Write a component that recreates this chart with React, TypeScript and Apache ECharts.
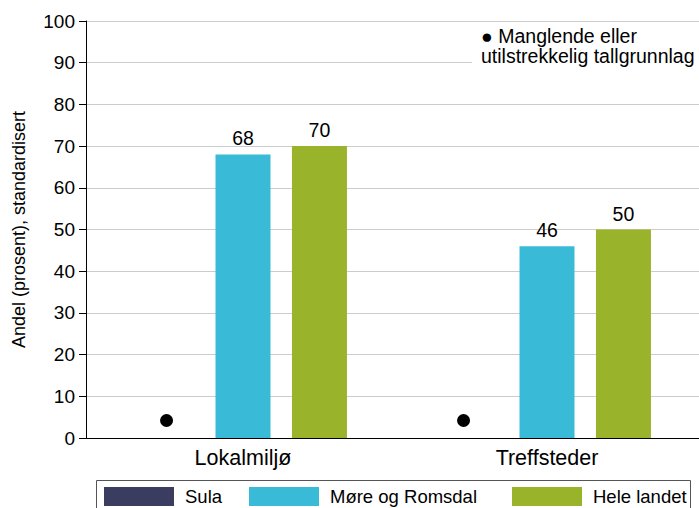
import React, { useEffect, useRef } from "react";
import * as echarts from "echarts";

const categories = ["Lokalmiljø", "Treffsteder"];
const seriesNames = ["Sula", "Møre og Romsdal", "Hele landet"];
const sulaValues: (number | null)[] = [null, null];
const moreValues = [68, 46];
const heleValues = [70, 50];
const yTicks = { min: 0, max: 100, interval: 10 };
const yAxisTitle = "Andel (prosent), standardisert";
const noteLines = ["● Manglende eller", "utilstrekkelig tallgrunnlag"];

const colors = ["#3a3c60", "#39bbd7", "#99b32a"];
const FONT = "Liberation Sans, Arial, sans-serif";
const legendLefts = [104, 249, 512];
const dotOffsets = [0, -7];

export default function App() {
  const ref = useRef<HTMLDivElement>(null);
  useEffect(() => {
    if (!ref.current) return;
    const chart = echarts.init(ref.current, undefined, { renderer: "svg" });
    const dotLabel = (i: number) => ({
      show: true,
      position: "top",
      distance: 11,
      offset: [dotOffsets[i], 0],
      formatter: "{d|}",
      rich: { d: { width: 13, height: 13, borderRadius: 6.5, backgroundColor: "#000" } },
    });
    const valueLabel = {
      show: true,
      position: "top",
      distance: 6,
      color: "#000",
      fontSize: 19.5,
      fontFamily: FONT,
    };
    chart.setOption({
      animation: false,
      textStyle: { fontFamily: FONT },
      grid: [
        { left: 86, top: 21, right: 0, bottom: 70, containLabel: false },
        { left: 91, top: 21, width: 614, bottom: 70, containLabel: false },
      ],
      legend: seriesNames.map((name, i) => ({
        left: legendLefts[i],
        top: 487,
        padding: 0,
        itemWidth: 70,
        itemHeight: 19,
        icon: "rect",
        selectedMode: false,
        textStyle: { fontSize: 18.5, color: "#000", fontFamily: FONT, padding: [0, 0, 0, 6] },
        data: [name],
      })),
      xAxis: [
        {
          type: "category",
          gridIndex: 0,
          data: categories,
          axisLine: { lineStyle: { color: "#000", width: 1 } },
          axisTick: { show: false },
          axisLabel: { show: false },
        },
        {
          type: "category",
          gridIndex: 1,
          data: categories,
          axisLine: { show: false },
          axisTick: { show: false },
          axisLabel: { color: "#000", fontSize: 21.5, margin: 9, fontFamily: FONT },
        },
      ],
      yAxis: [
        {
          type: "value",
          gridIndex: 0,
          min: yTicks.min,
          max: yTicks.max,
          interval: yTicks.interval,
          name: yAxisTitle,
          nameLocation: "middle",
          nameGap: 58,
          nameTextStyle: { color: "#000", fontSize: 18, fontFamily: FONT },
          axisLine: { show: true, lineStyle: { color: "#000", width: 1 } },
          axisTick: { show: true, length: 7, lineStyle: { color: "#000" } },
          axisLabel: { color: "#000", fontSize: 19, margin: 11, fontFamily: FONT },
          splitLine: { lineStyle: { color: "#cccccc", width: 1 } },
        },
        {
          type: "value",
          gridIndex: 1,
          min: yTicks.min,
          max: yTicks.max,
          interval: yTicks.interval,
          show: false,
          splitLine: { show: false },
        },
      ],
      series: [
        {
          name: seriesNames[0],
          type: "bar",
          xAxisIndex: 1,
          yAxisIndex: 1,
          barWidth: 55,
          barGap: "39%",
          itemStyle: { color: colors[0] },
          data: sulaValues.map((v, i) =>
            v === null ? { value: 0, label: dotLabel(i) } : { value: v }
          ),
        },
        {
          name: seriesNames[1],
          type: "bar",
          xAxisIndex: 1,
          yAxisIndex: 1,
          barWidth: 55,
          barGap: "39%",
          itemStyle: { color: colors[1] },
          label: valueLabel,
          data: moreValues,
        },
        {
          name: seriesNames[2],
          type: "bar",
          xAxisIndex: 1,
          yAxisIndex: 1,
          barWidth: 55,
          barGap: "39%",
          itemStyle: { color: colors[2] },
          label: valueLabel,
          data: heleValues,
        },
      ],
      graphic: [
        {
          type: "rect",
          z: 99,
          shape: { x: 472, y: 24, width: 227, height: 43 },
          style: { fill: "#fff" },
        },
        {
          type: "text",
          x: 481,
          y: 26,
          z: 100,
          style: {
            text: noteLines.join("\n"),
            fontSize: 19.5,
            lineHeight: 20,
            fill: "#000",
            fontFamily: FONT,
          },
        },
        {
          type: "rect",
          z: 50,
          shape: { x: 96.5, y: 480.5, width: 594, height: 40 },
          style: { fill: "none", stroke: "#555", lineWidth: 1 },
        },
      ],
    });
    return () => chart.dispose();
  }, []);
  return <div ref={ref} style={{ width: 699, height: 508, position: "absolute", left: 0, top: 0 }} />;
}
